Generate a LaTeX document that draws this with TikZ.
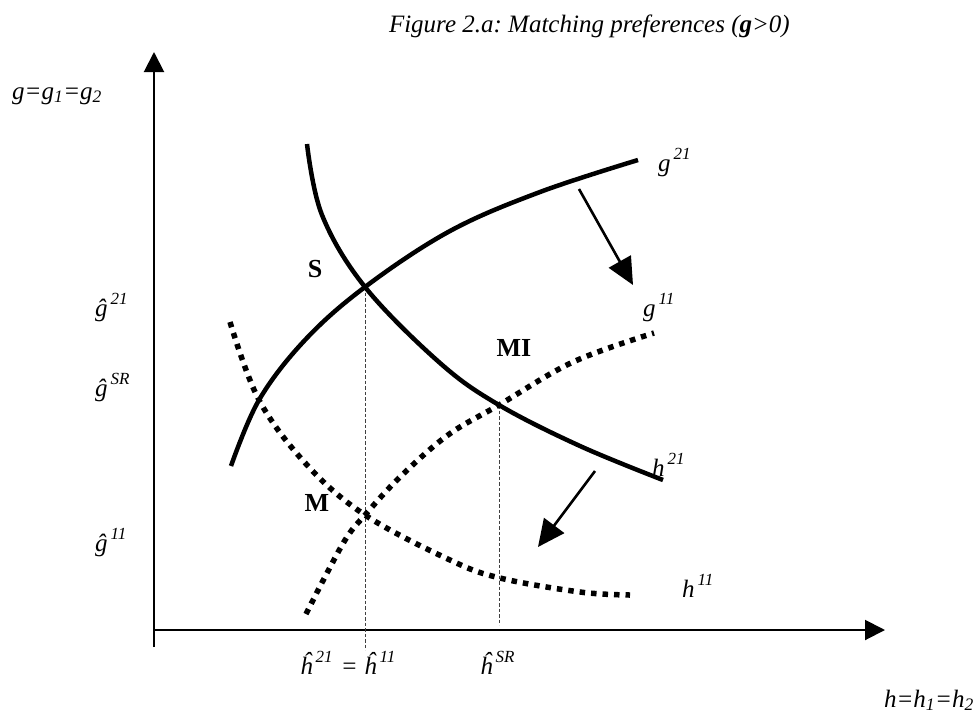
\documentclass[tikz,border=0pt]{standalone}
\usepackage{fontspec}
\setmainfont{Liberation Serif}
\usetikzlibrary{arrows.meta}
\frenchspacing
\newcommand{\supx}[1]{\kern3pt\raisebox{0.48em}{\fontsize{17}{17}\selectfont #1}}
\tikzset{
  lbl/.style={font=\fontsize{25}{30}\selectfont\itshape, inner sep=0pt},
  ptlbl/.style={font=\fontsize{26}{30}\selectfont\bfseries, inner sep=0pt},
  axisline/.style={line width=2pt, -{Triangle[length=20pt,width=20pt]}},
  solidcurve/.style={line width=4.5pt},
  dotcurve/.style={line width=5.5pt, dash pattern=on 5.5pt off 6pt},
  guide/.style={line width=0.8pt, dash pattern=on 3.5pt off 2pt, black!75},
  shiftarrow/.style={line width=2.6pt, -{Triangle[length=27pt,width=25pt]}}
}
\begin{document}
\begin{tikzpicture}[x=1pt,y=-1pt]
\useasboundingbox (0,0) rectangle (975,713);
% axes
\coordinate (O) at (154,630);
\coordinate (ybot) at (154,647);
\coordinate (ytop) at (154,52);
\coordinate (xend) at (885,630);
\draw[axisline] (ybot) -- (ytop);
\draw[axisline] (O) -- (xend);
% intersection points
\coordinate (S) at (365,287);
\coordinate (Mp) at (365,515);
\coordinate (MIp) at (499,405);
\coordinate (Sbase) at (365,650);
\coordinate (MIbase) at (499,625);
\draw[guide] (S) -- (Sbase);
\draw[guide] (MIp) -- (MIbase);
% curves
\draw[solidcurve] plot[smooth,tension=0.6] coordinates {(231,466) (259,400) (305,340) (S) (450,231) (540,192) (638,160)};
\draw[solidcurve] plot[smooth,tension=0.6] coordinates {(307,144) (322,215) (S) (440,363) (MIp) (580,446) (663,480)};
\draw[dotcurve] plot[smooth,tension=0.6] coordinates {(230,322) (259,400) (307,465) (Mp) (450,560) (500,578) (580,592) (630,595)};
\draw[dotcurve] plot[smooth,tension=0.6] coordinates {(306,614) (327,573) (347,537) (Mp) (400,477) (448,435) (MIp) (573,362) (654,333)};
% shift arrows
\coordinate (a1s) at (579,189);
\coordinate (a1e) at (633,285);
\coordinate (a2s) at (595,471);
\coordinate (a2e) at (538,547);
\draw[shiftarrow] (a1s) -- (a1e);
\draw[shiftarrow] (a2s) -- (a2e);
% title
\node[lbl, anchor=base east] (title) at (790,32) {Figure 2.a: Matching preferences (\textbf{g}>0)};
% axis labels
\node[lbl, anchor=base west] (ylab) at (12,99) {g=g\textsubscript{1}=g\textsubscript{2}};
\node[lbl, anchor=base east] (xlab) at (974,707) {h=h\textsubscript{1}=h\textsubscript{2}};
% g hat labels
\node[lbl, anchor=base west] (g21hat) at (95,316) {ĝ\supx{21}};
\node[lbl, anchor=base west] (gSRhat) at (95,396) {ĝ\supx{SR}};
\node[lbl, anchor=base west] (g11hat) at (95,551) {ĝ\supx{11}};
% h hat labels
\node[lbl, anchor=base west] (h21hat) at (300,674) {ĥ\supx{21}\kern2pt{} = ĥ\supx{11}};
\node[lbl, anchor=base west] (hSRhat) at (480,674) {ĥ\supx{SR}};
% point labels
\node[ptlbl, anchor=base] (Slab) at (315,277) {S};
\node[ptlbl, anchor=base] (Mlab) at (317,511) {M};
\node[ptlbl, anchor=base] (MIlab) at (514,356) {MI};
% curve labels
\node[lbl, anchor=base west] (g21lab) at (658,171) {g\supx{21}};
\node[lbl, anchor=base west] (g11lab) at (643,316) {g\supx{11}};
\node[lbl, anchor=base west] (h21lab) at (652,476) {h\supx{21}};
\node[lbl, anchor=base west] (h11lab) at (682,597) {h\supx{11}};
\end{tikzpicture}
\end{document}
